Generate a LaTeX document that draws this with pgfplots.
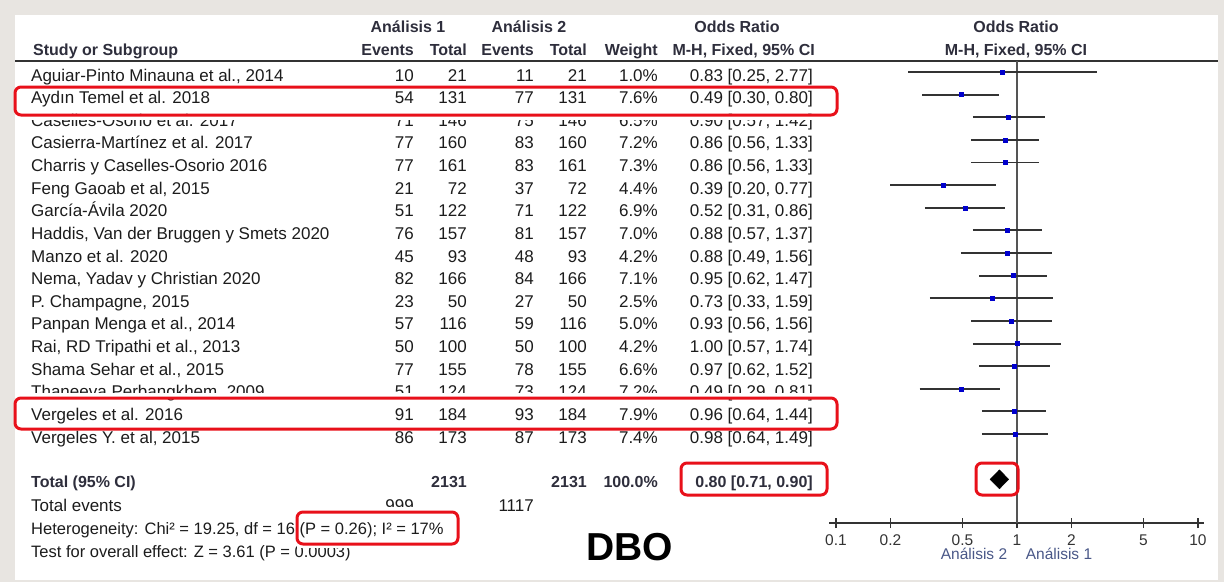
\documentclass[border=0pt]{standalone}
\usepackage{pgfplots}
\pgfplotsset{compat=1.18}
\usepackage{pgfplotstable}
\usepackage{fontspec}
\setmainfont{Liberation Sans}
\definecolor{bggray}{HTML}{E8E5E1}
\definecolor{hdr}{HTML}{2E2E3C}
\definecolor{txt}{HTML}{1C1C1C}
\definecolor{axgray}{HTML}{333333}
\definecolor{vgray}{HTML}{555555}
\definecolor{sqblue}{HTML}{0000CC}
\definecolor{boxred}{HTML}{E8101A}
\definecolor{lblblue}{HTML}{4A5888}

\newcommand\rf{\fontsize{17}{20}\selectfont}
\newcommand\hf{\fontsize{16}{19}\selectfont\bfseries}

\pgfplotstableread{
or   lo   hi   w
0.83 0.25 2.77 1.0
0.49 0.30 0.80 7.6
0.90 0.57 1.42 6.5
0.86 0.56 1.33 7.2
0.86 0.56 1.33 7.3
0.39 0.20 0.77 4.4
0.52 0.31 0.86 6.9
0.88 0.57 1.37 7.0
0.88 0.49 1.56 4.2
0.95 0.62 1.47 7.1
0.73 0.33 1.59 2.5
0.93 0.56 1.56 5.0
1.00 0.57 1.74 4.2
0.97 0.62 1.52 6.6
0.49 0.29 0.81 7.2
0.96 0.64 1.44 7.9
0.98 0.64 1.49 7.4
}\studies

\newcommand\studyrow[8]{%
  \pgfmathsetmacro\by{-(81+22.625*(#1-1))}%
  \node[anchor=base west,text=txt,inner sep=0pt] at (31pt,\by pt) {\rf #2};
  \node[anchor=base east,text=txt,inner sep=0pt] at (414pt,\by pt) {\rf #3};
  \node[anchor=base east,text=txt,inner sep=0pt] at (467pt,\by pt) {\rf #4};
  \node[anchor=base east,text=txt,inner sep=0pt] at (534pt,\by pt) {\rf #5};
  \node[anchor=base east,text=txt,inner sep=0pt] at (587pt,\by pt) {\rf #6};
  \node[anchor=base east,text=txt,inner sep=0pt] at (658pt,\by pt) {\rf #7};
  \node[anchor=base east,text=txt,inner sep=0pt] at (813pt,\by pt) {\rf #8};
}

\begin{document}
\begin{tikzpicture}
% frame
\fill[bggray] (0pt,0pt) rectangle (1224pt,-582pt);
\fill[white] (15pt,-15pt) rectangle (1218pt,-580pt);

% headers
\begin{scope}[every node/.style={inner sep=0pt,text=hdr}]
\node[anchor=base] at (408pt,-32.5pt) {\hf Análisis 1};
\node[anchor=base] at (529pt,-32.5pt) {\hf Análisis 2};
\node[anchor=base] at (737pt,-32.5pt) {\hf Odds Ratio};
\node[anchor=base] at (1016pt,-32.5pt) {\hf Odds Ratio};
\node[anchor=base west] at (33pt,-55.5pt) {\hf Study or Subgroup};
\node[anchor=base east] at (414pt,-55.5pt) {\hf Events};
\node[anchor=base east] at (467pt,-55.5pt) {\hf Total};
\node[anchor=base east] at (534pt,-55.5pt) {\hf Events};
\node[anchor=base east] at (587pt,-55.5pt) {\hf Total};
\node[anchor=base east] at (658pt,-55.5pt) {\hf Weight};
\node[anchor=base east] at (815pt,-55.5pt) {\hf M-H, Fixed, 95\% CI};
\node[anchor=base] at (1016pt,-55.5pt) {\hf M-H, Fixed, 95\% CI};
\end{scope}
\draw[axgray,line width=1.8pt] (15pt,-61pt) -- (1218pt,-61pt);

% study rows
\studyrow{1}{Aguiar-Pinto Minauna et al., 2014}{10}{21}{11}{21}{1.0\%}{0.83 [0.25, 2.77]}
\studyrow{2}{Aydın Temel et al. 2018}{54}{131}{77}{131}{7.6\%}{0.49 [0.30, 0.80]}
\studyrow{3}{Caselles-Osorio et al. 2017}{71}{146}{75}{146}{6.5\%}{0.90 [0.57, 1.42]}
\studyrow{4}{Casierra-Martínez et al. 2017}{77}{160}{83}{160}{7.2\%}{0.86 [0.56, 1.33]}
\studyrow{5}{Charris y Caselles-Osorio 2016}{77}{161}{83}{161}{7.3\%}{0.86 [0.56, 1.33]}
\studyrow{6}{Feng Gaoab et al, 2015}{21}{72}{37}{72}{4.4\%}{0.39 [0.20, 0.77]}
\studyrow{7}{García-Ávila 2020}{51}{122}{71}{122}{6.9\%}{0.52 [0.31, 0.86]}
\studyrow{8}{Haddis, Van der Bruggen y Smets 2020}{76}{157}{81}{157}{7.0\%}{0.88 [0.57, 1.37]}
\studyrow{9}{Manzo et al. 2020}{45}{93}{48}{93}{4.2\%}{0.88 [0.49, 1.56]}
\studyrow{10}{Nema, Yadav y Christian 2020}{82}{166}{84}{166}{7.1\%}{0.95 [0.62, 1.47]}
\studyrow{11}{P. Champagne, 2015}{23}{50}{27}{50}{2.5\%}{0.73 [0.33, 1.59]}
\studyrow{12}{Panpan Menga et al., 2014}{57}{116}{59}{116}{5.0\%}{0.93 [0.56, 1.56]}
\studyrow{13}{Rai, RD Tripathi et al., 2013}{50}{100}{50}{100}{4.2\%}{1.00 [0.57, 1.74]}
\studyrow{14}{Shama Sehar et al., 2015}{77}{155}{78}{155}{6.6\%}{0.97 [0.62, 1.52]}
\studyrow{15}{Thaneeva Perbangkhem, 2009}{51}{124}{73}{124}{7.2\%}{0.49 [0.29, 0.81]}
\studyrow{16}{Vergeles et al. 2016}{91}{184}{93}{184}{7.9\%}{0.96 [0.64, 1.44]}
\studyrow{17}{Vergeles Y. et al, 2015}{86}{173}{87}{173}{7.4\%}{0.98 [0.64, 1.49]}

% totals
\begin{scope}[every node/.style={inner sep=0pt}]
\node[anchor=base west,text=hdr] at (31pt,-487pt) {\hf Total (95\% CI)};
\node[anchor=base east,text=hdr] at (467pt,-487pt) {\hf 2131};
\node[anchor=base east,text=hdr] at (587pt,-487pt) {\hf 2131};
\node[anchor=base east,text=hdr] at (658pt,-487pt) {\hf 100.0\%};
\node[anchor=base east,text=hdr] at (813pt,-487pt) {\hf 0.80 [0.71, 0.90]};
\node[anchor=base west,text=txt] at (31pt,-511pt) {\rf Total events};
\node[anchor=base east,text=txt] at (414pt,-511pt) {\rf 999};
\node[anchor=base east,text=txt] at (534pt,-511pt) {\rf 1117};
\node[anchor=base west,text=txt] at (31pt,-534pt) {\fontsize{16.5}{19}\selectfont Heterogeneity: Chi² = 19.25, df = 16 (P = 0.26); I² = 17\%};
\node[anchor=base west,text=txt] at (31pt,-557pt) {\fontsize{16.5}{19}\selectfont Test for overall effect: Z = 3.61 (P = 0.0003)};
\node[anchor=base,text=black] at (630pt,-560pt) {\fontsize{39}{40}\selectfont\bfseries DBO};
\node[anchor=base,text=lblblue] at (974pt,-559pt) {\fontsize{15.5}{18}\selectfont Análisis 2};
\node[anchor=base,text=lblblue] at (1059pt,-559pt) {\fontsize{15.5}{18}\selectfont Análisis 1};
\end{scope}

\begin{axis}[
  at={(829pt,-523pt)}, anchor=south west,
  scale only axis, width=375pt, height=462pt,
  xmode=log, xmin=0.0915, xmax=10.8,
  ymin=-20.93, ymax=-0.514,
  axis x line=bottom, axis y line=none,
  x axis line style={-, line width=1.7pt, draw=axgray},
  xtick={0.1,0.2,0.5,1,2,5,10},
  xticklabels={0.1,0.2,0.5,1,2,5,10},
  xminorticks=false,
  tick align=center, major tick length=10pt,
  xtick style={line width=1.7pt, draw=axgray},
  xticklabel style={font=\fontsize{15.5}{16}\selectfont, text=axgray, yshift=-3pt},
  clip=false,
]
\addplot[line width=1.7pt, vgray] coordinates {(1,-0.514) (1,-20.93)};
\pgfplotsforeachungrouped \i in {0,...,16} {%
  \pgfplotstablegetelem{\i}{lo}\of\studies \let\lo\pgfplotsretval
  \pgfplotstablegetelem{\i}{hi}\of\studies \let\hi\pgfplotsretval
  \pgfmathtruncatemacro\yy{-\i-1}%
  \edef\tmp{\noexpand\addplot[line width=1.9pt, color=axgray] coordinates {(\lo,\yy) (\hi,\yy)};}%
  \tmp
}
\addplot[scatter, only marks, mark=square*,
  visualization depends on={\thisrow{w} \as \wt},
  scatter/@pre marker code/.append style={/tikz/mark size={0.95*sqrt(\wt)}},
  scatter/use mapped color={draw=sqblue, fill=sqblue}]
  table[x=or, y expr=-\coordindex-1] {\studies};
\addplot[fill=black, draw=black] coordinates {(0.71,-19) (0.80,-18.58) (0.90,-19) (0.80,-19.42)} -- cycle;
\end{axis}

% white halos that hide parts of neighbouring text
\fill[white] (15pt,-116pt) rectangle (837pt,-119.5pt);
\fill[white] (15pt,-392.5pt) rectangle (837pt,-397pt);
\fill[white] (297pt,-507pt) rectangle (458pt,-512pt);
\fill[white] (297pt,-544pt) rectangle (458pt,-548pt);
% highlight boxes
\foreach \a/\b/\c/\d in {15/87/837/115, 15/398/837/429, 297/512/458/544, 681/463/827/495, 976/463/1018/495} {
  \draw[boxred, line width=3pt, rounded corners=6pt] (\a pt,-\b pt) rectangle (\c pt,-\d pt);
}
\end{tikzpicture}
\end{document}
